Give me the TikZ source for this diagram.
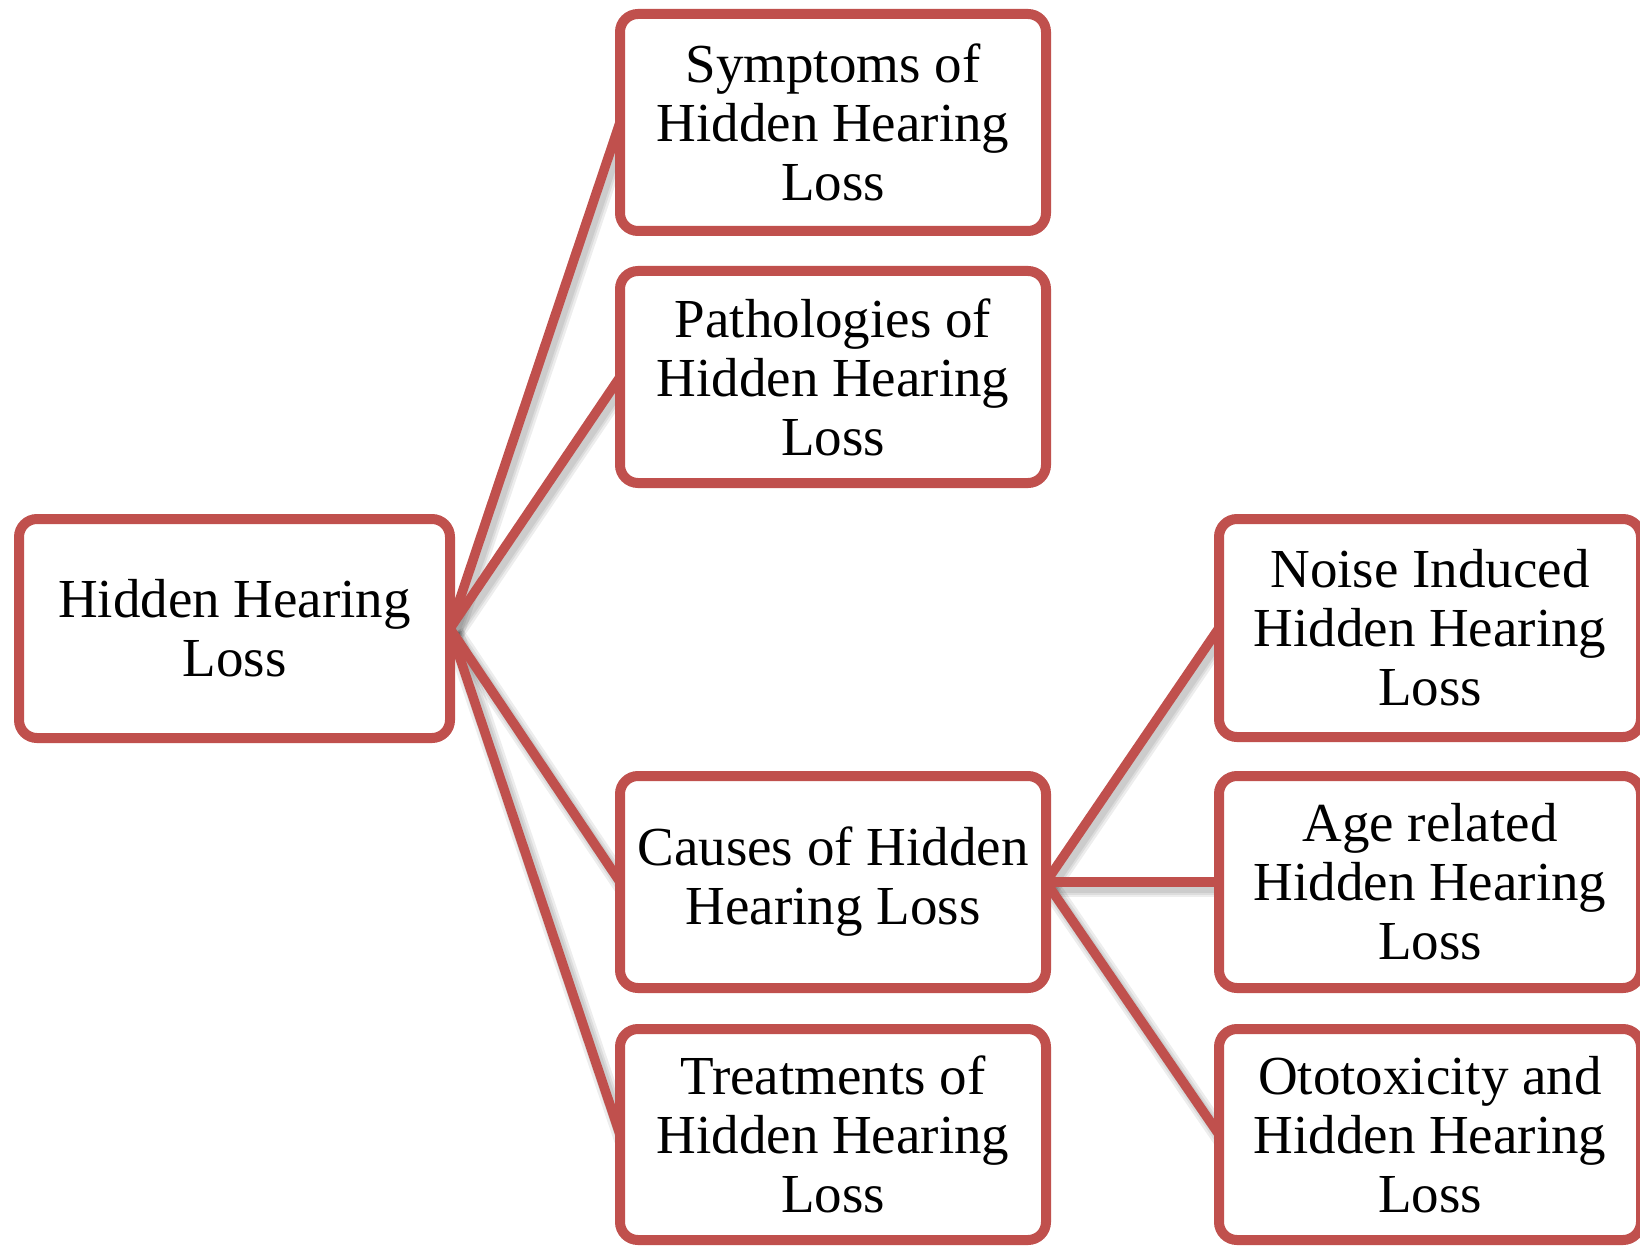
\documentclass[tikz,border=0pt]{standalone}
\usepackage{fontspec}
\setmainfont{Liberation Serif}
\definecolor{boxred}{HTML}{C0504D}
\pgfdeclarelayer{background}
\pgfsetlayers{background,main}
\begin{document}
\begin{tikzpicture}[x=1pt,y=-1pt,
  topic/.style={draw=boxred, line width=10pt, rounded corners=18pt, fill=white,
    align=center, inner sep=0pt, outer sep=0pt, text=black,
    font=\fontsize{55}{59}\selectfont},
  link/.style={draw=boxred, line width=9.5pt},
  linkshade/.style={draw=black, line width=#1, opacity=0.07}]
\useasboundingbox (0,0) rectangle (1640,1246);

% root topic
\node[topic, minimum width=431, minimum height=219] (root) at (234.5,628.5)
  {Hidden Hearing\\Loss};

% second level
\node[topic, minimum width=426, minimum height=217] (sym) at (833,122.5)
  {Symptoms of\\Hidden Hearing\\Loss};
\node[topic, minimum width=426, minimum height=212] (path) at (833,377)
  {Pathologies of\\Hidden Hearing\\Loss};
\node[topic, minimum width=426, minimum height=212] (cause) at (833,882)
  {Causes of Hidden\\Hearing Loss};
\node[topic, minimum width=426, minimum height=211] (treat) at (833,1134.5)
  {Treatments of\\Hidden Hearing\\Loss};

% third level, under causes
\node[topic, minimum width=422, minimum height=218] (noise) at (1430,628)
  {Noise Induced\\Hidden Hearing\\Loss};
\node[topic, minimum width=422, minimum height=212] (age) at (1430,882)
  {Age related\\Hidden Hearing\\Loss};
\node[topic, minimum width=422, minimum height=211] (oto) at (1430,1134.5)
  {Ototoxicity and\\Hidden Hearing\\Loss};

\begin{pgfonlayer}{background}
  \fill[white] (0,0) rectangle (1640,1246);
  % soft shadows of the connectors
  \foreach \a/\b in {root/sym, root/path, root/cause, root/treat,
                     cause/noise, cause/age, cause/oto} {
    \foreach \w in {20pt,15pt,11pt}
      \draw[linkshade=\w] ([shift={(4,5)}]\a.east) -- ([shift={(4,5)}]\b.west);
  }
  % connectors
  \foreach \a/\b in {root/sym, root/path, root/cause, root/treat,
                     cause/noise, cause/age, cause/oto}
    \draw[link] (\a.east) -- (\b.west);
\end{pgfonlayer}
\end{tikzpicture}
\end{document}
